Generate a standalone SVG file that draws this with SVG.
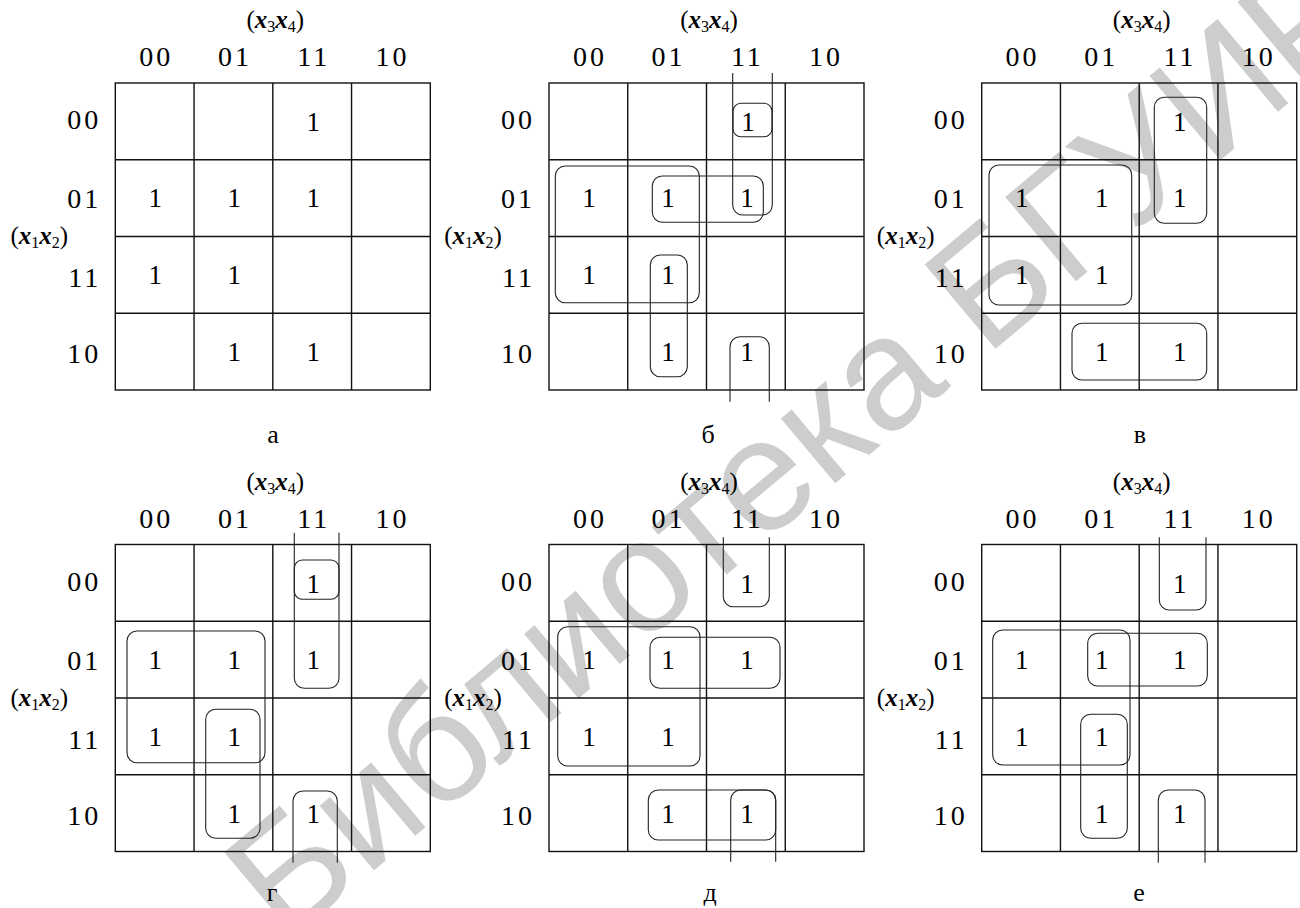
<svg xmlns="http://www.w3.org/2000/svg" width="1300" height="908" viewBox="0 0 1300 908">
<style>
text{font-family:"Liberation Serif","Times New Roman",serif;fill:#000}
.grid{fill:none;stroke:#111;stroke-width:1.4}
.loop{fill:none;stroke:#222;stroke-width:1.1}
.h{font-size:28px;letter-spacing:3px;text-anchor:middle}
.r{font-size:28px;letter-spacing:3px;text-anchor:end}
.v{font-size:25px;text-anchor:middle}
.x{font-style:italic;font-weight:bold}
.s{font-size:16px}
.o{font-size:27px;text-anchor:middle}
.c{font-size:26px;text-anchor:middle}
.wm{font-family:"Liberation Sans",Arial,sans-serif;font-size:160px;fill:#cdcdcd}
</style>
<text class="wm" transform="translate(285,945) rotate(-40)">Библиотека БГУИР</text>

<g id="map-a" transform="translate(115.3,83)">
<rect class="grid" x="0" y="0" width="315" height="307"/>
<path class="grid" d="M78.75,0V307M157.5,0V307M236.25,0V307M0,76.75H315M0,153.5H315M0,230.25H315"/>
<text class="h" x="40.9" y="-17">00</text><text class="h" x="119.6" y="-17">01</text><text class="h" x="198.4" y="-17">11</text><text class="h" x="277.1" y="-17">10</text>
<text class="r" x="-14" y="46">00</text><text class="r" x="-14" y="125">01</text><text class="r" x="-14" y="204">11</text><text class="r" x="-14" y="280">10</text>
<text class="v" x="160" y="-55">(<tspan class="x">x</tspan><tspan class="s" dy="4">3</tspan><tspan class="x" dy="-4">x</tspan><tspan class="s" dy="4">4</tspan><tspan dy="-4">)</tspan></text>
<text class="v" x="-76" y="161">(<tspan class="x">x</tspan><tspan class="s" dy="4">1</tspan><tspan class="x" dy="-4">x</tspan><tspan class="s" dy="4">2</tspan><tspan dy="-4">)</tspan></text>
<text class="o" x="198" y="48">1</text><text class="o" x="40" y="124">1</text><text class="o" x="119" y="124">1</text><text class="o" x="198" y="124">1</text><text class="o" x="40" y="201">1</text><text class="o" x="119" y="201">1</text><text class="o" x="119" y="278">1</text><text class="o" x="198" y="278">1</text>
</g>

<g id="map-b" transform="translate(549,83)">
<rect class="grid" x="0" y="0" width="315" height="307"/>
<path class="grid" d="M78.75,0V307M157.5,0V307M236.25,0V307M0,76.75H315M0,153.5H315M0,230.25H315"/>
<text class="h" x="40.9" y="-17">00</text><text class="h" x="119.6" y="-17">01</text><text class="h" x="198.4" y="-17">11</text><text class="h" x="277.1" y="-17">10</text>
<text class="r" x="-14" y="46">00</text><text class="r" x="-14" y="125">01</text><text class="r" x="-14" y="204">11</text><text class="r" x="-14" y="280">10</text>
<text class="v" x="160" y="-55">(<tspan class="x">x</tspan><tspan class="s" dy="4">3</tspan><tspan class="x" dy="-4">x</tspan><tspan class="s" dy="4">4</tspan><tspan dy="-4">)</tspan></text>
<text class="v" x="-76" y="161">(<tspan class="x">x</tspan><tspan class="s" dy="4">1</tspan><tspan class="x" dy="-4">x</tspan><tspan class="s" dy="4">2</tspan><tspan dy="-4">)</tspan></text>
<text class="o" x="199" y="48">1</text><text class="o" x="40" y="124">1</text><text class="o" x="119" y="124">1</text><text class="o" x="198" y="124">1</text><text class="o" x="40" y="201">1</text><text class="o" x="119" y="201">1</text><text class="o" x="119" y="278">1</text><text class="o" x="198" y="278">1</text>
<g class="groups">
<rect class="loop" x="184" y="20.3" width="39" height="33.4" rx="8"/>
<path class="loop" d="M183.7,-10V122a10,10 0 0 0 10,10H213.3a10,10 0 0 0 10,-10V-10"/>
<path class="loop" d="M181,318.7V263.7a10,10 0 0 1 10,-10H210.3a10,10 0 0 1 10,10V318.7"/>
<rect class="loop" x="6.3" y="83" width="144" height="136.7" rx="10"/>
<rect class="loop" x="103.3" y="93" width="111" height="46.3" rx="10"/>
<rect class="loop" x="101.3" y="172" width="37" height="121.7" rx="10"/>
</g>
</g>

<g id="map-v" transform="translate(981.7,83)">
<rect class="grid" x="0" y="0" width="315" height="307"/>
<path class="grid" d="M78.75,0V307M157.5,0V307M236.25,0V307M0,76.75H315M0,153.5H315M0,230.25H315"/>
<text class="h" x="40.9" y="-17">00</text><text class="h" x="119.6" y="-17">01</text><text class="h" x="198.4" y="-17">11</text><text class="h" x="277.1" y="-17">10</text>
<text class="r" x="-14" y="46">00</text><text class="r" x="-14" y="125">01</text><text class="r" x="-14" y="204">11</text><text class="r" x="-14" y="280">10</text>
<text class="v" x="160" y="-55">(<tspan class="x">x</tspan><tspan class="s" dy="4">3</tspan><tspan class="x" dy="-4">x</tspan><tspan class="s" dy="4">4</tspan><tspan dy="-4">)</tspan></text>
<text class="v" x="-76" y="161">(<tspan class="x">x</tspan><tspan class="s" dy="4">1</tspan><tspan class="x" dy="-4">x</tspan><tspan class="s" dy="4">2</tspan><tspan dy="-4">)</tspan></text>
<text class="o" x="198" y="48">1</text><text class="o" x="40" y="124">1</text><text class="o" x="120" y="124">1</text><text class="o" x="198" y="124">1</text><text class="o" x="40" y="201">1</text><text class="o" x="120" y="201">1</text><text class="o" x="120" y="278">1</text><text class="o" x="198" y="278">1</text>
<g class="groups">
<rect class="loop" x="172.6" y="14.3" width="52.4" height="126" rx="10"/>
<rect class="loop" x="7.3" y="82" width="142.7" height="140" rx="10"/>
<rect class="loop" x="90.3" y="240.3" width="134.7" height="56.7" rx="10"/>
</g>
</g>

<g id="map-g" transform="translate(115.3,544.5)">
<rect class="grid" x="0" y="0" width="315" height="307"/>
<path class="grid" d="M78.75,0V307M157.5,0V307M236.25,0V307M0,76.75H315M0,153.5H315M0,230.25H315"/>
<text class="h" x="40.9" y="-17">00</text><text class="h" x="119.6" y="-17">01</text><text class="h" x="198.4" y="-17">11</text><text class="h" x="277.1" y="-17">10</text>
<text class="r" x="-14" y="46">00</text><text class="r" x="-14" y="125">01</text><text class="r" x="-14" y="204">11</text><text class="r" x="-14" y="280">10</text>
<text class="v" x="160" y="-55">(<tspan class="x">x</tspan><tspan class="s" dy="4">3</tspan><tspan class="x" dy="-4">x</tspan><tspan class="s" dy="4">4</tspan><tspan dy="-4">)</tspan></text>
<text class="v" x="-76" y="161">(<tspan class="x">x</tspan><tspan class="s" dy="4">1</tspan><tspan class="x" dy="-4">x</tspan><tspan class="s" dy="4">2</tspan><tspan dy="-4">)</tspan></text>
<text class="o" x="198" y="48">1</text><text class="o" x="40" y="124">1</text><text class="o" x="119" y="124">1</text><text class="o" x="198" y="124">1</text><text class="o" x="40" y="201">1</text><text class="o" x="119" y="201">1</text><text class="o" x="119" y="278">1</text><text class="o" x="198" y="278">1</text>
<g class="groups">
<rect class="loop" x="179" y="15.5" width="44.7" height="39.3" rx="8"/>
<path class="loop" d="M179,-11.8V133.8a10,10 0 0 0 10,10H213.7a10,10 0 0 0 10,-10V-11.8"/>
<rect class="loop" x="11.7" y="86.5" width="138" height="131.7" rx="10"/>
<rect class="loop" x="90.4" y="164.8" width="54.3" height="129" rx="10"/>
<path class="loop" d="M177.7,318.2V256.5a10,10 0 0 1 10,-10H212a10,10 0 0 1 10,10V318.2"/>
</g>
</g>

<g id="map-d" transform="translate(549,544.5)">
<rect class="grid" x="0" y="0" width="315" height="307"/>
<path class="grid" d="M78.75,0V307M157.5,0V307M236.25,0V307M0,76.75H315M0,153.5H315M0,230.25H315"/>
<text class="h" x="40.9" y="-17">00</text><text class="h" x="119.6" y="-17">01</text><text class="h" x="198.4" y="-17">11</text><text class="h" x="277.1" y="-17">10</text>
<text class="r" x="-14" y="46">00</text><text class="r" x="-14" y="125">01</text><text class="r" x="-14" y="204">11</text><text class="r" x="-14" y="280">10</text>
<text class="v" x="160" y="-55">(<tspan class="x">x</tspan><tspan class="s" dy="4">3</tspan><tspan class="x" dy="-4">x</tspan><tspan class="s" dy="4">4</tspan><tspan dy="-4">)</tspan></text>
<text class="v" x="-76" y="161">(<tspan class="x">x</tspan><tspan class="s" dy="4">1</tspan><tspan class="x" dy="-4">x</tspan><tspan class="s" dy="4">2</tspan><tspan dy="-4">)</tspan></text>
<text class="o" x="198" y="48">1</text><text class="o" x="40" y="124">1</text><text class="o" x="119" y="124">1</text><text class="o" x="198" y="124">1</text><text class="o" x="40" y="201">1</text><text class="o" x="119" y="201">1</text><text class="o" x="119" y="278">1</text><text class="o" x="198" y="278">1</text>
<g class="groups">
<path class="loop" d="M174.3,-7.2V52.2a10,10 0 0 0 10,10H210.3a10,10 0 0 0 10,-10V-7.2"/>
<rect class="loop" x="8.7" y="82.2" width="142.3" height="139.3" rx="10"/>
<rect class="loop" x="101" y="92.8" width="130" height="51" rx="10"/>
<rect class="loop" x="99.3" y="245.5" width="127.4" height="50" rx="10"/>
<path class="loop" d="M181.7,317.2V255.5a10,10 0 0 1 10,-10H216.7a10,10 0 0 1 10,10V317.2"/>
</g>
</g>

<g id="map-e" transform="translate(981.7,544.5)">
<rect class="grid" x="0" y="0" width="315" height="307"/>
<path class="grid" d="M78.75,0V307M157.5,0V307M236.25,0V307M0,76.75H315M0,153.5H315M0,230.25H315"/>
<text class="h" x="40.9" y="-17">00</text><text class="h" x="119.6" y="-17">01</text><text class="h" x="198.4" y="-17">11</text><text class="h" x="277.1" y="-17">10</text>
<text class="r" x="-14" y="46">00</text><text class="r" x="-14" y="125">01</text><text class="r" x="-14" y="204">11</text><text class="r" x="-14" y="280">10</text>
<text class="v" x="160" y="-55">(<tspan class="x">x</tspan><tspan class="s" dy="4">3</tspan><tspan class="x" dy="-4">x</tspan><tspan class="s" dy="4">4</tspan><tspan dy="-4">)</tspan></text>
<text class="v" x="-76" y="161">(<tspan class="x">x</tspan><tspan class="s" dy="4">1</tspan><tspan class="x" dy="-4">x</tspan><tspan class="s" dy="4">2</tspan><tspan dy="-4">)</tspan></text>
<text class="o" x="198" y="48">1</text><text class="o" x="40" y="124">1</text><text class="o" x="120" y="124">1</text><text class="o" x="198" y="124">1</text><text class="o" x="40" y="201">1</text><text class="o" x="120" y="201">1</text><text class="o" x="120" y="278">1</text><text class="o" x="198" y="278">1</text>
<g class="groups">
<path class="loop" d="M177.6,-7.2V55.5a10,10 0 0 0 10,10H214.3a10,10 0 0 0 10,-10V-7.2"/>
<rect class="loop" x="11" y="85.5" width="137.3" height="135" rx="10"/>
<rect class="loop" x="106" y="88.8" width="119.6" height="52.7" rx="10"/>
<rect class="loop" x="99" y="169.8" width="46.6" height="124" rx="10"/>
<path class="loop" d="M176.6,318.2V255.5a10,10 0 0 1 10,-10H213.3a10,10 0 0 1 10,10V318.2"/>
</g>
</g>

<g id="captions">
<text class="c" x="273" y="443">а</text>
<text class="c" x="708" y="443">б</text>
<text class="c" x="1140" y="443">в</text>
<text class="c" x="272" y="901">г</text>
<text class="c" x="710" y="901">д</text>
<text class="c" x="1139" y="901">е</text>
</g>
</svg>
